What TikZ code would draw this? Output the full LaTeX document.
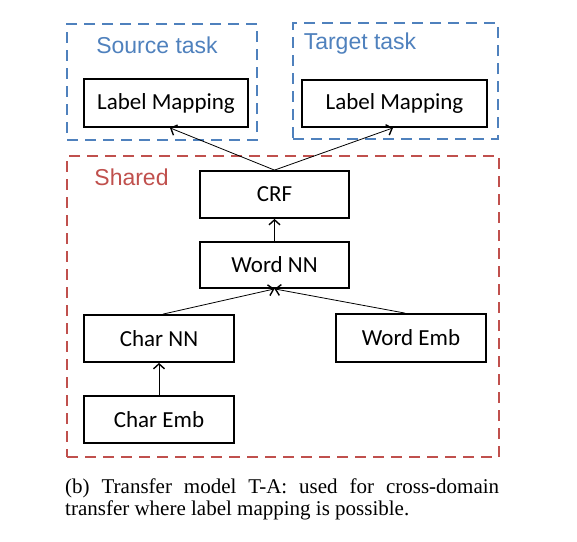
\documentclass[tikz,border=0pt]{standalone}
\usepackage{fontspec}
\setmainfont{Liberation Serif}
\newfontfamily\boxfont{Carlito}
\newfontfamily\labfont{Liberation Sans}
\usetikzlibrary{arrows.meta}
\definecolor{tblue}{RGB}{79,129,189}
\definecolor{tred}{RGB}{192,80,77}
\tikzset{
  grp/.style={draw, line width=2.5pt, dash pattern=on 11pt off 7pt, minimum width=#1, inner sep=0pt},
  blk/.style={draw, line width=1.8pt, font=\boxfont\fontsize{23}{27}\selectfont, inner sep=0pt},
  grplab/.style={font=\labfont\fontsize{23}{27}\selectfont, inner sep=0pt},
  conn/.style={line width=0.8pt, -{Straight Barb[length=5pt,width=11pt,line width=1.4pt]}},
}
\begin{document}
\begin{tikzpicture}[x=1pt,y=-1pt]
\useasboundingbox (0,0) rectangle (577,541);
% groups
\node[grp=190pt, tblue, minimum height=116pt] (src) at (162,82) {};
\node[grp=205pt, tblue, minimum height=116pt] (tgt) at (395.5,81) {};
\node[grp=432pt, tred, minimum height=301pt] (shared) at (283,306.5) {};
\node[grplab, text=tblue] (srclab) at (157,45) {Source task};
\node[grplab, text=tblue] (tgtlab) at (360,44) {Target task};
\node[grplab, text=tred] (sharedlab) at (131.5,177) {Shared};
% blocks
\node[blk, minimum width=164pt, minimum height=48pt] (srcLM) at (166,103) {Label Mapping};
\node[blk, minimum width=185pt, minimum height=47pt] (tgtLM) at (394.5,103.5) {Label Mapping};
\node[blk, minimum width=149pt, minimum height=47pt] (crf) at (274.5,194.5) {CRF};
\node[blk, minimum width=149pt, minimum height=46pt] (wordnn) at (274.5,265) {Word NN};
\node[blk, minimum width=150pt, minimum height=47pt] (charnn) at (159,338.5) {Char NN};
\node[blk, minimum width=150pt, minimum height=48pt] (wordemb) at (411,338) {Word Emb};
\node[blk, minimum width=150pt, minimum height=47pt] (charemb) at (159,419.5) {Char Emb};
% connectors
\draw[conn] (crf.north) -- ([xshift=4pt]srcLM.south);
\draw[conn] (crf.north) -- ([xshift=-1.5pt]tgtLM.south);
\draw[conn] (wordnn.north) -- (crf.south);
\draw[conn] ([xshift=4pt]charnn.north) -- (wordnn.south);
\draw[conn] ([xshift=-6pt]wordemb.north) -- (wordnn.south);
\draw[conn] (charemb.north) -- (charnn.south);
% caption
\node[anchor=base west, inner sep=0pt, font=\fontsize{21}{22}\selectfont] (cap1) at (65,493) {\makebox[434pt][s]{(b) Transfer model T-A: used for cross-domain}};
\node[anchor=base west, inner sep=0pt, font=\fontsize{21}{22}\selectfont] (cap2) at (65,515) {transfer where label mapping is possible.};
\end{tikzpicture}
\end{document}
